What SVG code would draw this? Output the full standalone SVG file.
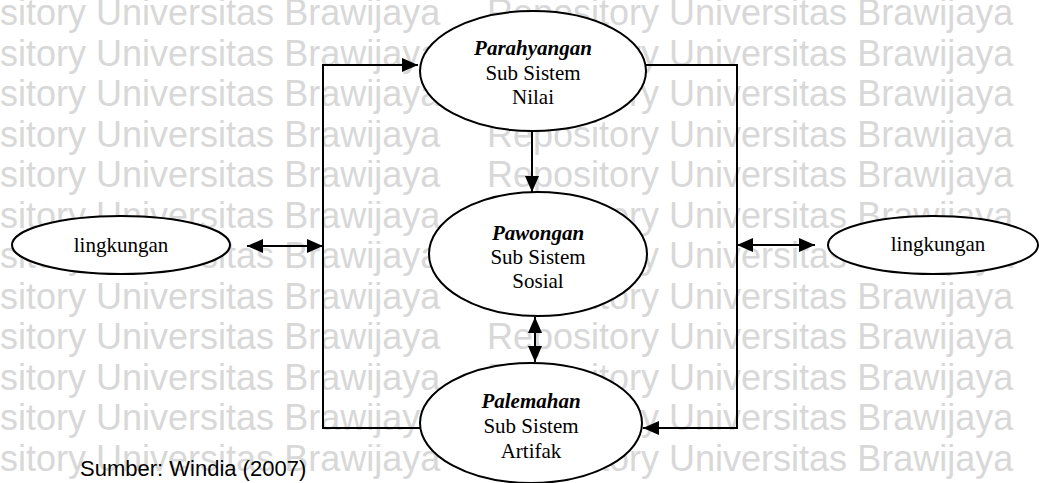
<svg xmlns="http://www.w3.org/2000/svg" width="1039" height="483" viewBox="0 0 1039 483">
  <style>
    .wm { font-family: "Liberation Sans", Arial, sans-serif; font-size: 36px; fill: #d8d8d8; }
    .node { fill: #ffffff; stroke: #000000; stroke-width: 2; }
    .lbl { font-family: "Liberation Serif", "Times New Roman", serif; font-size: 21px; fill: #000000; text-anchor: middle; }
    .title { font-weight: bold; font-style: italic; }
    .wire { fill: none; stroke: #000000; stroke-width: 2; }
    .src { font-family: "Liberation Sans", Arial, sans-serif; font-size: 22px; fill: #000000; }
  </style>
  <defs>
    <marker id="arrow" markerUnits="userSpaceOnUse" markerWidth="16" markerHeight="14" viewBox="0 0 16 14" refX="16" refY="7" orient="auto-start-reverse">
      <path d="M0,0 L16,7 L0,14 z" fill="#000000"/>
    </marker>
  </defs>

  <rect width="1039" height="483" fill="#ffffff"/>

  <!-- repository watermark, tiled rows -->
  <g id="watermark">
    <text class="wm" x="-86" y="25">Repository Universitas Brawijaya</text>
    <text class="wm" x="487" y="25">Repository Universitas Brawijaya</text>
    <text class="wm" x="-86" y="65.5">Repository Universitas Brawijaya</text>
    <text class="wm" x="487" y="65.5">Repository Universitas Brawijaya</text>
    <text class="wm" x="-86" y="106">Repository Universitas Brawijaya</text>
    <text class="wm" x="487" y="106">Repository Universitas Brawijaya</text>
    <text class="wm" x="-86" y="146.5">Repository Universitas Brawijaya</text>
    <text class="wm" x="487" y="146.5">Repository Universitas Brawijaya</text>
    <text class="wm" x="-86" y="187">Repository Universitas Brawijaya</text>
    <text class="wm" x="487" y="187">Repository Universitas Brawijaya</text>
    <text class="wm" x="-86" y="227.5">Repository Universitas Brawijaya</text>
    <text class="wm" x="487" y="227.5">Repository Universitas Brawijaya</text>
    <text class="wm" x="-86" y="268">Repository Universitas Brawijaya</text>
    <text class="wm" x="487" y="268">Repository Universitas Brawijaya</text>
    <text class="wm" x="-86" y="308.5">Repository Universitas Brawijaya</text>
    <text class="wm" x="487" y="308.5">Repository Universitas Brawijaya</text>
    <text class="wm" x="-86" y="349">Repository Universitas Brawijaya</text>
    <text class="wm" x="487" y="349">Repository Universitas Brawijaya</text>
    <text class="wm" x="-86" y="389.5">Repository Universitas Brawijaya</text>
    <text class="wm" x="487" y="389.5">Repository Universitas Brawijaya</text>
    <text class="wm" x="-86" y="430">Repository Universitas Brawijaya</text>
    <text class="wm" x="487" y="430">Repository Universitas Brawijaya</text>
    <text class="wm" x="-86" y="470.5">Repository Universitas Brawijaya</text>
    <text class="wm" x="487" y="470.5">Repository Universitas Brawijaya</text>
  </g>

  <!-- connectors -->
  <g id="connectors">
    <path class="wire" d="M420,428 H323 V65 H418" marker-end="url(#arrow)"/>
    <path class="wire" d="M646,65 H737 V428 H643" marker-end="url(#arrow)"/>
    <path class="wire" d="M532,131 V192" marker-end="url(#arrow)"/>
    <path class="wire" d="M535,317 V362" marker-start="url(#arrow)" marker-end="url(#arrow)"/>
    <path class="wire" d="M247,246 H323" marker-start="url(#arrow)" marker-end="url(#arrow)"/>
    <path class="wire" d="M737,245 H815" marker-start="url(#arrow)" marker-end="url(#arrow)"/>
  </g>

  <!-- subsystem nodes -->
  <g id="parahyangan">
    <ellipse class="node" cx="533" cy="71" rx="113" ry="60"/>
    <text class="lbl title" x="533" y="55">Parahyangan</text>
    <text class="lbl" x="533" y="80">Sub Sistem</text>
    <text class="lbl" x="533" y="104">Nilai</text>
  </g>
  <g id="pawongan">
    <ellipse class="node" cx="538" cy="254" rx="109" ry="62"/>
    <text class="lbl title" x="538" y="240">Pawongan</text>
    <text class="lbl" x="538" y="264">Sub Sistem</text>
    <text class="lbl" x="538" y="288">Sosial</text>
  </g>
  <g id="palemahan">
    <ellipse class="node" cx="531" cy="423" rx="111" ry="60"/>
    <text class="lbl title" x="531" y="408">Palemahan</text>
    <text class="lbl" x="531" y="433">Sub Sistem</text>
    <text class="lbl" x="531" y="458">Artifak</text>
  </g>

  <!-- environment nodes -->
  <g id="lingkungan-left">
    <ellipse class="node" cx="121" cy="245" rx="109" ry="29"/>
    <text class="lbl" x="121" y="252">lingkungan</text>
  </g>
  <g id="lingkungan-right">
    <ellipse class="node" cx="933" cy="245" rx="105" ry="29"/>
    <text class="lbl" x="938" y="251">lingkungan</text>
  </g>

  <text class="src" x="80" y="476">Sumber: Windia (2007)</text>
</svg>
